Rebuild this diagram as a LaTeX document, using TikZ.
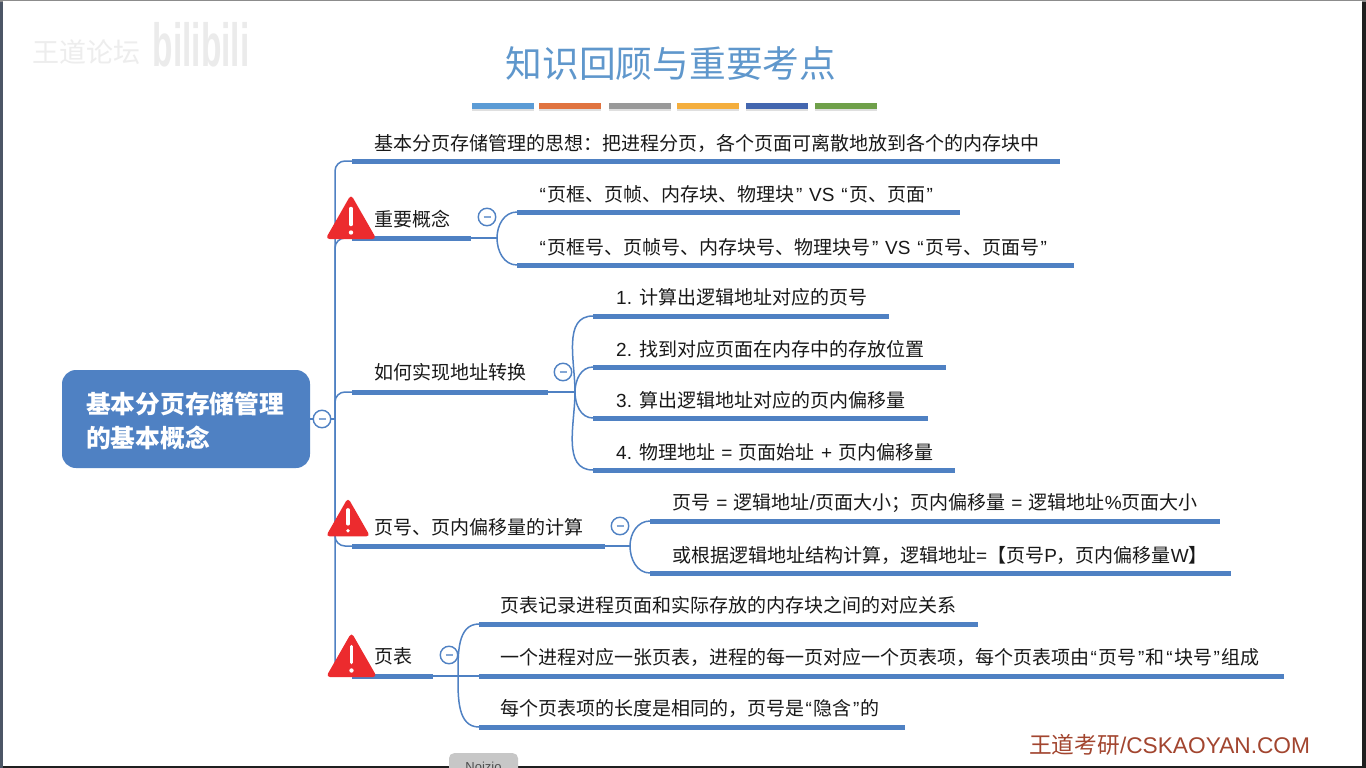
\documentclass[tikz,border=0pt]{standalone}
\usepackage{fontspec}
\setmainfont{Noto Sans CJK SC}
\newfontfamily\latinfont{Liberation Sans}
\usetikzlibrary{shadows}
\definecolor{mapblue}{HTML}{4F81C3}
\definecolor{titleblue}{HTML}{5F97CC}
\definecolor{signred}{HTML}{EC2B2E}
\definecolor{footred}{HTML}{A2452F}
\definecolor{edgegray}{HTML}{4C5666}
\definecolor{stripblue}{HTML}{5B9BD5}
\definecolor{striporange}{HTML}{E0733F}
\definecolor{stripgray}{HTML}{999999}
\definecolor{stripyellow}{HTML}{F4AE3D}
\definecolor{stripnavy}{HTML}{4366AF}
\definecolor{stripgreen}{HTML}{6FA04A}
\newcommand\lat[1]{{\latinfont #1}}
\newcommand\sgn[1]{\kern1pt\lat{ #1 }\kern1pt}
\newcommand\oq{\kern1.5pt\lat{“}\kern1.5pt}
\newcommand\cq{\kern1.5pt\lat{”}\kern1.5pt}
\tikzset{
    topic/.style={anchor=west, inner sep=0pt, font=\fontsize{19}{23}\selectfont, text=black!90},
    bar/.style={anchor=west, inner sep=0pt, minimum height=5pt, fill=mapblue},
    link/.style={draw=mapblue, line width=1.5pt},
    minus/.style={circle, draw=mapblue, fill=white, line width=1.4pt, minimum size=17.5pt, inner sep=0pt,
        path picture={\draw[mapblue!70, line width=1.5pt] ([xshift=-3.5pt]path picture bounding box.center) -- ([xshift=3.5pt]path picture bounding box.center);}},
    strip/.style={anchor=west, inner sep=0pt, minimum width=62pt, minimum height=6pt, drop shadow={shadow xshift=0pt, shadow yshift=-2pt, opacity=0.25}},
    pics/warnsign/.style={code={
        \fill[signred, rounded corners=4pt] (0,-44) -- (25.5,0.5) -- (-25.5,0.5) -- cycle;
        \draw[white, line width=3.5pt, line cap=round] (0,-30) -- (0,-14);
        \fill[white] (0,-6) circle (2.2pt);
    }},
}
\begin{document}
\begin{tikzpicture}[x=1pt, y=-1pt]
    \useasboundingbox (0,0) rectangle (1366,768);
    \fill[black!88] (0,0) rectangle (1366,768);
    \fill[edgegray] (0,0) rectangle (3,768);
    \fill[black!45] (0,0) rectangle (1366,2);
    \fill[white] (3,1) rectangle (1362,766);

    \node[fill=black!22, rounded corners=5pt, anchor=north, minimum width=69pt, minimum height=24pt, inner sep=0pt] (noizio) at (483.5,753) {};
    \node[anchor=base, inner sep=0pt, font=\latinfont\fontsize{13}{15}\selectfont, text=black!70] (noiziotext) at (483.5,771) {Noizio};

    \node[inner sep=0pt, font=\fontsize{27}{30}\selectfont, text=black!7] (forum) at (86,52) {王道论坛};
    \node[inner sep=0pt, xscale=0.88, yscale=1.6, transform shape, font=\latinfont\bfseries\fontsize{38}{40}\selectfont, text=black!8] (bili) at (201,45) {bilibili};

    \node[inner sep=0pt, font=\fontsize{36.7}{40}\selectfont, text=titleblue] (title) at (671,64) {知识回顾与重要考点};
    \node[strip, fill=stripblue] (strip1) at (472,106) {};
    \node[strip, fill=striporange] (strip2) at (539,106) {};
    \node[strip, fill=stripgray] (strip3) at (609,106) {};
    \node[strip, fill=stripyellow] (strip4) at (677,106) {};
    \node[strip, fill=stripnavy] (strip5) at (746,106) {};
    \node[strip, fill=stripgreen] (strip6) at (815,106) {};

    \node[fill=mapblue, rounded corners=14pt, minimum width=248pt, minimum height=98pt, inner sep=0pt] (root) at (186,419) {};
    \node[anchor=west, inner sep=0pt, text=white, align=left, font=\bfseries\fontsize{24.75}{34}\selectfont] (roottext) at (86,421) {基本分页存储管理\\的基本概念};
    \coordinate (trunk) at (335,419);

    \node[bar, minimum width=708pt] (ideabar) at (352,161) {};
    \node[topic] (idea) at (374,143) {基本分页存储管理的思想：把进程分页，各个页面可离散地放到各个的内存块中};

    \node[bar, minimum width=119pt] (conceptbar) at (352,238) {};
    \node[topic] (concept) at (374,219) {重要概念};
    \node[bar, minimum width=443pt] (framebar) at (517,212) {};
    \node[topic] (frame) at (538,194) {\oq 页框、页帧、内存块、物理块\cq\lat{ VS }\oq 页、页面\cq};
    \node[bar, minimum width=557pt] (framenumbar) at (517,265) {};
    \node[topic] (framenum) at (538,247) {\oq 页框号、页帧号、内存块号、物理块号\cq\lat{ VS }\oq 页号、页面号\cq};

    \node[bar, minimum width=196pt] (convertbar) at (352,392) {};
    \node[topic] (convert) at (374,372) {如何实现地址转换};
    \node[bar, minimum width=296pt] (step1bar) at (593,316) {};
    \node[topic] (step1) at (616,297) {\lat{1. }计算出逻辑地址对应的页号};
    \node[bar, minimum width=353pt] (step2bar) at (593,367) {};
    \node[topic] (step2) at (616,349) {\lat{2. }找到对应页面在内存中的存放位置};
    \node[bar, minimum width=335pt] (step3bar) at (593,418) {};
    \node[topic] (step3) at (616,400) {\lat{3. }算出逻辑地址对应的页内偏移量};
    \node[bar, minimum width=362pt] (step4bar) at (593,470) {};
    \node[topic] (step4) at (616,452) {\lat{4. }物理地址\sgn{=}页面始址\sgn{+}页内偏移量};

    \node[bar, minimum width=253pt] (offsetbar) at (352,546) {};
    \node[topic] (offset) at (374,527) {页号、页内偏移量的计算};
    \node[bar, minimum width=570pt] (formulabar) at (650,521) {};
    \node[topic] (formula) at (672,503) {页号\sgn{=}逻辑地址\lat{/}页面大小；页内偏移量\sgn{=}逻辑地址\lat{\%}页面大小};
    \node[bar, minimum width=581pt] (structbar) at (650,573) {};
    \node[topic] (struct) at (672,555) {或根据逻辑地址结构计算，逻辑地址\lat{=}【页号\lat{P}，页内偏移量\lat{W}】};

    \node[bar, minimum width=81pt] (tablebar) at (352,676) {};
    \node[topic] (table) at (374,656) {页表};
    \node[bar, minimum width=499pt] (recordbar) at (479,624) {};
    \node[topic] (record) at (500,605) {页表记录进程页面和实际存放的内存块之间的对应关系};
    \node[bar, minimum width=805pt] (entrybar) at (479,676) {};
    \node[topic] (entry) at (500,657) {一个进程对应一张页表，进程的每一页对应一个页表项，每个页表项由\oq 页号\cq 和\oq 块号\cq 组成};
    \node[bar, minimum width=426pt] (lengthbar) at (479,727) {};
    \node[topic] (length) at (500,708) {每个页表项的长度是相同的，页号是\oq 隐含\cq 的};

    \draw[link] (root.east) -- (trunk);
    \foreach \branch in {ideabar,conceptbar,convertbar,offsetbar,tablebar}
        \draw[link, rounded corners=10pt] (\branch.west) -| (trunk);

    \coordinate (conceptfork) at (497,238);
    \coordinate (convertfork) at (575,392);
    \coordinate (offsetfork) at (630,546);
    \coordinate (tablefork) at (458,676);
    \draw[link] (conceptbar.east) -- (conceptfork);
    \draw[link] (convertbar.east) -- (convertfork);
    \draw[link] (offsetbar.east) -- (offsetfork);
    \draw[link] (tablebar.east) -- (entrybar.west);

    \draw[link] (conceptfork) to[out=90, in=180] (framebar.west);
    \draw[link] (conceptfork) to[out=-90, in=180] (framenumbar.west);
    \draw[link] (convertfork) to[out=90, in=180] (step1bar.west);
    \draw[link] (convertfork) to[out=90, in=180] (step2bar.west);
    \draw[link] (convertfork) to[out=-90, in=180] (step3bar.west);
    \draw[link] (convertfork) to[out=-90, in=180] (step4bar.west);
    \draw[link] (offsetfork) to[out=90, in=180] (formulabar.west);
    \draw[link] (offsetfork) to[out=-90, in=180] (structbar.west);
    \draw[link] (tablefork) to[out=90, in=180] (recordbar.west);
    \draw[link] (tablefork) to[out=-90, in=180] (lengthbar.west);

    \node[minus] (rootminus) at (322,419) {};
    \node[minus] (conceptminus) at (487,217) {};
    \node[minus] (convertminus) at (563,372) {};
    \node[minus] (offsetminus) at (620,526) {};
    \node[minus] (tableminus) at (449,655) {};

    \pic (conceptsign) at (351,238.5) {warnsign};
    \pic[scale=0.87] (offsetsign) at (348,536) {warnsign};
    \pic (tablesign) at (351.5,676.5) {warnsign};

    \node[anchor=west, inner sep=0pt, text=footred, font=\fontsize{22.7}{26}\selectfont] (foot) at (1029,745) {王道考研\latinfont /CSKAOYAN.COM};
\end{tikzpicture}
\end{document}
